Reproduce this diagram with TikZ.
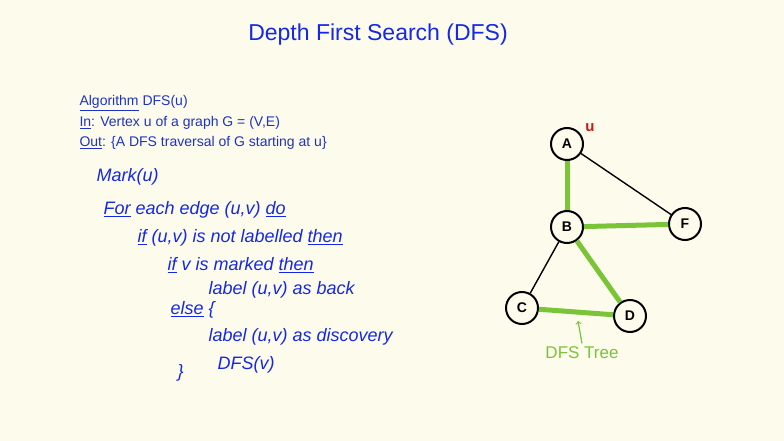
\documentclass[tikz,border=0pt]{standalone}
\usepackage{fontspec}
\setmainfont{Liberation Sans}
\definecolor{bgc}{RGB}{253,252,236}
\definecolor{grn}{RGB}{122,196,56}
\definecolor{blu}{RGB}{20,40,230}
\definecolor{algb}{RGB}{30,50,200}
\definecolor{redu}{RGB}{210,20,20}
\begin{document}
\begin{tikzpicture}[x=1pt,y=-1pt,
  vtx/.style={circle,draw=black,line width=2pt,minimum size=32pt,inner sep=0pt,font=\bfseries\fontsize{14}{16}\selectfont},
  tree/.style={draw=grn,line width=5pt},
  back/.style={draw=black,line width=1.4pt},
  code/.style={anchor=west,text=blu,font=\itshape\fontsize{18}{20}\selectfont},
  alg/.style={anchor=west,text=algb,font=\fontsize{14}{16}\selectfont}]
\fill[bgc] (0,0) rectangle (784,441);
\useasboundingbox (0,0) rectangle (784,441);
\node[text=blu,font=\fontsize{23}{26}\selectfont] (title) at (378,35) {Depth First Search (DFS)};
\node[alg] (l1) at (76,103) {\underline{Algorithm} DFS(u)};
\node[alg] (l2) at (76,123) {\underline{In}: Vertex u of a graph G = (V,E)};
\node[alg] (l3) at (76,143) {\underline{Out}: \{A DFS traversal of G starting at u\}};
\node[code] (c1) at (93,177) {Mark(u)};
\node[code] (c2) at (100,210) {\underline{For} each edge (u,v) \underline{do}};
\node[code] (c3) at (134,238) {\underline{if} (u,v) is not labelled \underline{then}};
\node[code] (c4) at (164,265) {\underline{if} v is marked \underline{then}};
\node[code] (c5) at (205,290) {label (u,v) as back};
\node[code] (c6) at (167,310) {\underline{else} \{};
\node[code] (c7) at (205,337) {label (u,v) as discovery};
\node[code] (c8) at (214,365) {DFS(v)};
\node[code] (c9) at (174,373) {\}};
\node[vtx] (A) at (567,144) {A};
\node[vtx] (B) at (567,227) {B};
\node[vtx] (F) at (685,224) {F};
\node[vtx] (C) at (522,308) {C};
\node[vtx] (D) at (630,316) {D};
\draw[tree] (A) -- (B);
\draw[tree] (B) -- (F);
\draw[tree] (B) -- (D);
\draw[tree] (C) -- (D);
\draw[back] (A) -- (F);
\draw[back] (B) -- (C);
\node[text=redu,font=\bfseries\fontsize{15}{16}\selectfont] (u) at (590,128) {u};
\node[text=grn,font=\fontsize{17}{18}\selectfont] (dt) at (582,353) {DFS Tree};
\coordinate (ar) at (578,321);
\draw[grn,line width=1.2pt,->] (dt.north) -- (ar);
\end{tikzpicture}
\end{document}
